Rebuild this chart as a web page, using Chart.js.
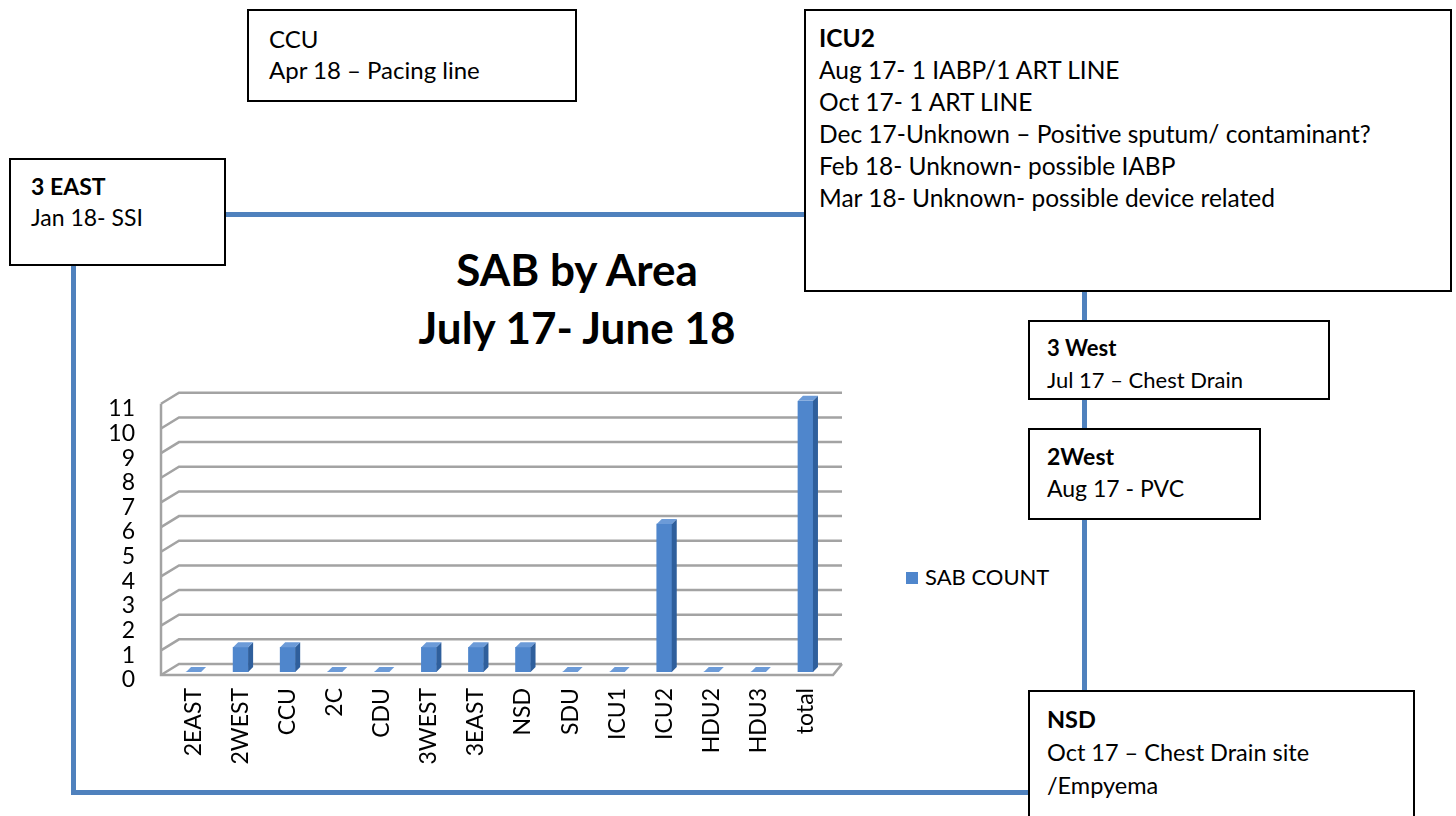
<!DOCTYPE html>
<html>
<head>
<meta charset="utf-8">
<script src="https://cdn.jsdelivr.net/npm/chart.js@4.4.1/dist/chart.umd.min.js"></script>
<style>
    body { margin: 0; width: 1456px; height: 816px; background: #fff; position: relative; overflow: hidden; font-family: Lato, "Noto Sans", sans-serif; color: #000; }
    .box { position: absolute; box-sizing: border-box; border: 2px solid #000; background: #fff; }
    .box b { font-weight: 700; }
    .linea { position: absolute; background: #4f81bd; }
    #titolo { position: absolute; left: 377px; top: 240px; width: 400px; text-align: center; font-weight: 700; font-size: 44px; line-height: 58px; white-space: nowrap; }
    #contenitore { position: absolute; left: 97px; top: 352px; width: 763px; height: 438px; }
    #legenda { position: absolute; left: 906px; top: 563px; font-size: 22px; line-height: 28px; white-space: nowrap; }
    #legenda span { display: inline-block; width: 12px; height: 12px; background: #4f86cc; margin-right: 7px; vertical-align: 1px; }
</style>
</head>
<body>
    <!-- linee di collegamento -->
    <div class="linea" style="left:226px; top:212px; width:578px; height:5px;"></div>
    <div class="linea" style="left:71px; top:266px; width:5px; height:529px;"></div>
    <div class="linea" style="left:71px; top:790px; width:957px; height:5px;"></div>
    <div class="linea" style="left:1082px; top:292px; width:5px; height:398px;"></div>

    <!-- riquadri delle note -->
    <div class="box" style="left:247px; top:9px; width:330px; height:93px; padding:12px 0 0 20px; font-size:24px; line-height:31px;">CCU<br>Apr 18 – Pacing line</div>
    <div class="box" style="left:804px; top:9px; width:648px; height:283px; padding:11px 0 0 13px; font-size:24.5px; line-height:32px;"><b>ICU2</b><br>Aug 17- 1 IABP/1 ART LINE<br>Oct 17- 1 ART LINE<br>Dec 17-Unknown – Positive sputum/ contaminant?<br>Feb 18- Unknown- possible IABP<br>Mar 18- Unknown- possible device related</div>
    <div class="box" style="left:9px; top:158px; width:217px; height:108px; padding:11px 0 0 20px; font-size:23px; line-height:31px;"><b>3 EAST</b><br>Jan 18- SSI</div>
    <div class="box" style="left:1028px; top:320px; width:302px; height:80px; padding:10px 0 0 17px; font-size:22px; line-height:32px;"><b>3 West</b><br>Jul 17 – Chest Drain</div>
    <div class="box" style="left:1028px; top:428px; width:233px; height:92px; padding:10px 0 0 17px; font-size:23px; line-height:32px;"><b>2West</b><br>Aug 17 - PVC</div>
    <div class="box" style="left:1028px; top:690px; width:387px; height:140px; padding:11px 0 0 17px; font-size:23.5px; line-height:33px;"><b>NSD</b><br>Oct 17 – Chest Drain site<br>/Empyema</div>

    <div id="titolo">SAB by Area<br>July 17- June 18</div>

    <div id="contenitore"><canvas id="grafico" width="763" height="438"></canvas></div>
    <div id="legenda"><span></span>SAB COUNT</div>

<script>
// Dati del grafico
const reparti = ['2EAST', '2WEST', 'CCU', '2C', 'CDU', '3WEST', '3EAST', 'NSD', 'SDU', 'ICU1', 'ICU2', 'HDU2', 'HDU3', 'total'];
const conteggioSab = [0, 1, 1, 0, 0, 1, 1, 1, 0, 0, 6, 0, 0, 11];
const valoriAsseY = [0, 1, 2, 3, 4, 5, 6, 7, 8, 9, 10, 11];
const nomeSerie = 'SAB COUNT';

const coloreBarra = '#4f86cc';
const profondita = 5;     // -> spessore finto 3D delle barre

// Pareti e griglia in stile 3D (disegnate sotto le barre)
const pareti3D = {
    id: 'pareti3D',
    beforeDatasetsDraw(chart) {
        const { ctx, chartArea: area, scales: { y } } = chart;
        const fronte = area.left - 9, fondo = area.left + 9, fine = area.right + 13;
        const zero = y.getPixelForValue(0);
        ctx.save();
        ctx.strokeStyle = '#a3a3a3';
        ctx.lineWidth = 2.5;
        valoriAsseY.forEach(v => {
            const p = y.getPixelForValue(v);
            ctx.beginPath();
            ctx.moveTo(fronte, p + 3);
            ctx.lineTo(fondo, p - 8);
            ctx.lineTo(fine, p - 8);
            ctx.stroke();
        });
        // spigolo anteriore sinistro e bordo del pavimento
        ctx.beginPath();
        ctx.moveTo(fronte, y.getPixelForValue(valoriAsseY[valoriAsseY.length - 1]) + 3);
        ctx.lineTo(fronte, zero + 3);
        ctx.lineTo(area.right + 4, zero + 3);
        ctx.lineTo(fine, zero - 8);
        ctx.stroke();
        ctx.restore();
    }
};

// Facce laterali e superiori delle barre
const barre3D = {
    id: 'barre3D',
    afterDatasetsDraw(chart) {
        const { ctx } = chart;
        const meta = chart.getDatasetMeta(0);
        ctx.save();
        meta.data.forEach(barra => {
            const { x, y, base, width } = barra.getProps(['x', 'y', 'base', 'width'], true);
            const sin = x - width / 2, des = x + width / 2;
            ctx.fillStyle = '#2f5f9c';
            ctx.beginPath();
            ctx.moveTo(des, y);
            ctx.lineTo(des + profondita, y - profondita);
            ctx.lineTo(des + profondita, base - profondita);
            ctx.lineTo(des, base);
            ctx.closePath();
            ctx.fill();
            ctx.fillStyle = '#6c9bd8';
            ctx.beginPath();
            ctx.moveTo(sin, y);
            ctx.lineTo(sin + profondita, y - profondita);
            ctx.lineTo(des + profondita, y - profondita);
            ctx.lineTo(des, y);
            ctx.closePath();
            ctx.fill();
        });
        ctx.restore();
    }
};

const configurazione = {
    type: 'bar',
    data: {
        labels: reparti,
        datasets: [{
            label: nomeSerie,
            data: conteggioSab,
            backgroundColor: coloreBarra,
            barThickness: 15,
            borderWidth: 0
        }]
    },
    options: {
        responsive: false,
        animation: false,
        layout: { padding: { top: 0, right: 31, bottom: 10, left: 0 } },
        scales: {
            x: {
                grid: { display: false, drawTicks: false },
                border: { display: false },
                ticks: {
                    color: '#000',
                    font: { family: 'Lato', size: 23 },
                    minRotation: 90,
                    maxRotation: 90,
                    padding: 16,
                    autoSkip: false
                },
                afterFit: (scala) => { scala.height = 108; }
            },
            y: {
                min: 0,
                max: 11,
                grid: { display: false, drawTicks: false },
                border: { display: false },
                ticks: {
                    stepSize: 1,
                    autoSkip: false,
                    color: '#000',
                    font: { family: 'Lato', size: 23 },
                    padding: 35,
                    labelOffset: 8
                },
                afterFit: (scala) => { scala.width = 73; }
            }
        },
        plugins: {
            legend: { display: false },
            tooltip: { enabled: false }
        }
    },
    plugins: [pareti3D, barre3D]
};

document.addEventListener('DOMContentLoaded', () => {
    new Chart(document.getElementById('grafico').getContext('2d'), configurazione);
});
</script>
</body>
</html>
